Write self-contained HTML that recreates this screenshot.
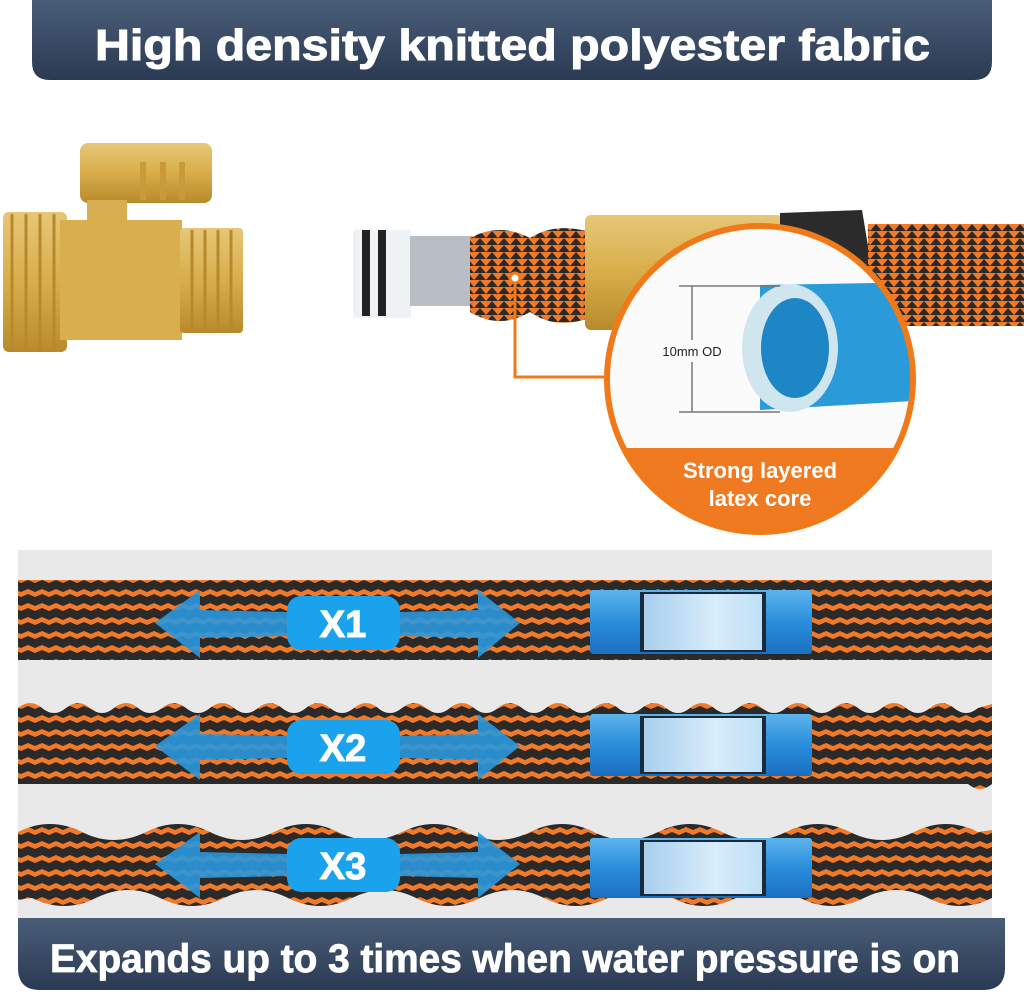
<!DOCTYPE html>
<html><head><meta charset="utf-8"><style>
body{margin:0;width:1024px;height:991px;background:#fff;overflow:hidden;font-family:"Liberation Sans",sans-serif}
</style></head><body>
<svg width="1024" height="991" viewBox="0 0 1024 991" xmlns="http://www.w3.org/2000/svg">
<defs>
<linearGradient id="nav" x1="0" y1="0" x2="0" y2="1"><stop offset="0" stop-color="#4a5d78"/><stop offset="1" stop-color="#2a3a52"/></linearGradient>
<linearGradient id="brass" x1="0" y1="0" x2="0" y2="1"><stop offset="0" stop-color="#e6c777"/><stop offset="0.5" stop-color="#d8ad4a"/><stop offset="1" stop-color="#b98a2a"/></linearGradient>
<pattern id="braid" width="14" height="14" patternUnits="userSpaceOnUse">
<rect width="14" height="14" fill="#2c2a28"/><path d="M0 1 L7 4 L14 1 L14 6 L7 9 L0 6 Z" fill="#f07a2a"/></pattern>
<pattern id="braidv" width="12" height="14" patternUnits="userSpaceOnUse">
<rect width="12" height="14" fill="#2c2a28"/><path d="M0 0 L6 7 L12 0 Z M0 7 L6 14 L12 7 Z" fill="#f07a2a"/></pattern>
<linearGradient id="blue" x1="0" y1="0" x2="0" y2="1"><stop offset="0" stop-color="#5cb4ec"/><stop offset="0.5" stop-color="#2a8ddb"/><stop offset="1" stop-color="#1b6fc0"/></linearGradient>
<linearGradient id="water" x1="0" y1="0" x2="1" y2="0"><stop offset="0" stop-color="#a8cfee"/><stop offset="0.6" stop-color="#d8ecfa"/><stop offset="1" stop-color="#bfe0f6"/></linearGradient>
<clipPath id="circ"><circle cx="760" cy="379" r="152"/></clipPath>
</defs>

<path d="M32 0 H992 V62 Q992 80 974 80 H50 Q32 80 32 62 Z" fill="url(#nav)"/>
<text x="95" y="60" textLength="835" lengthAdjust="spacingAndGlyphs" font-size="44" font-weight="bold" fill="#fff" stroke="#fff" stroke-width="1">High density knitted polyester fabric</text>

<rect x="80" y="143" width="132" height="60" rx="8" fill="url(#brass)"/>
<rect x="140" y="162" width="6" height="38" fill="#c99a3a"/><rect x="160" y="162" width="6" height="38" fill="#c99a3a"/><rect x="179" y="162" width="6" height="38" fill="#c99a3a"/>
<rect x="87" y="200" width="40" height="32" fill="#d9ae52"/>
<rect x="3" y="212" width="64" height="140" rx="6" fill="url(#brass)"/>
<g stroke="#b8892c" stroke-width="3"><line x1="12" y1="214" x2="12" y2="350"/><line x1="26" y1="214" x2="26" y2="350"/><line x1="40" y1="214" x2="40" y2="350"/><line x1="54" y1="214" x2="54" y2="350"/></g>
<rect x="60" y="220" width="122" height="120" fill="#d9ae4c"/>
<rect x="180" y="228" width="63" height="105" rx="4" fill="url(#brass)"/>
<g stroke="#b8892c" stroke-width="3"><line x1="192" y1="230" x2="192" y2="331"/><line x1="205" y1="230" x2="205" y2="331"/><line x1="218" y1="230" x2="218" y2="331"/><line x1="231" y1="230" x2="231" y2="331"/></g>

<rect x="353" y="230" width="58" height="88" fill="#eef2f4"/>
<rect x="362" y="230" width="8" height="86" fill="#222"/><rect x="378" y="230" width="8" height="86" fill="#222"/>
<rect x="410" y="236" width="62" height="70" fill="#b9bec4"/>
<path d="M470 238 Q500 222 530 238 Q555 222 590 232 V318 Q555 330 530 312 Q500 330 470 312 Z" fill="url(#braidv)"/>
<rect x="585" y="215" width="198" height="115" rx="6" fill="url(#brass)"/>
<path d="M780 213 L862 210 L872 270 L780 280 Z" fill="#2b2b2b"/>
<rect x="868" y="224" width="156" height="102" fill="url(#braidv)"/>

<circle cx="515" cy="278" r="5" fill="#fff" stroke="#f07a1a" stroke-width="3"/>
<polyline points="515,283 515,377 612,377" fill="none" stroke="#f07a1a" stroke-width="3"/>

<circle cx="760" cy="379" r="152" fill="#fbfbfb"/>
<g clip-path="url(#circ)">
<rect x="600" y="448" width="320" height="100" fill="#f07a22"/>
<path d="M760 285 L930 282 L930 400 L760 410 Z" fill="#2a9ad8"/>
<ellipse cx="790" cy="348" rx="48" ry="64" fill="#cfe6ee"/>
<ellipse cx="795" cy="348" rx="34" ry="50" fill="#1e86c4"/>
</g>
<circle cx="760" cy="379" r="153" fill="none" stroke="#f07a1a" stroke-width="6"/>
<g stroke="#777" stroke-width="1.5"><line x1="679" y1="286" x2="780" y2="286"/><line x1="679" y1="412" x2="780" y2="412"/><line x1="692" y1="286" x2="692" y2="340"/><line x1="692" y1="362" x2="692" y2="412"/></g>
<text x="692" y="356" text-anchor="middle" font-size="13" fill="#222">10mm OD</text>
<text x="760" y="478" text-anchor="middle" font-size="22" font-weight="bold" fill="#fff">Strong layered</text>
<text x="760" y="506" text-anchor="middle" font-size="22" font-weight="bold" fill="#fff">latex core</text>

<rect x="18" y="550" width="974" height="370" fill="#e9e9e9"/>

<rect x="18" y="580" width="974" height="80" fill="url(#braid)"/>
<path d="M18 708 Q30 698 42 708 T66 708 T90 708 T114 708 T138 708 T162 708 T186 708 T210 708 T234 708 T258 708 T282 708 T306 708 T330 708 T354 708 T378 708 T402 708 T426 708 T450 708 T474 708 T498 708 T522 708 T546 708 T570 708 T594 708 T618 708 T642 708 T666 708 T690 708 T714 708 T738 708 T762 708 T786 708 T810 708 T834 708 T858 708 T882 708 T906 708 T930 708 T954 708 T978 708 L992 704 V784 Q980 794 968 784 L18 784 Z" fill="url(#braid)"/>
<path d="M18 832 Q50 816 82 832 T146 832 T210 832 T274 832 T338 832 T402 832 T466 832 T530 832 T594 832 T658 832 T722 832 T786 832 T850 832 T914 832 T978 832 L992 830 V898 Q960 914 928 898 T864 898 T800 898 T736 898 T672 898 T608 898 T544 898 T480 898 T416 898 T352 898 T288 898 T224 898 T160 898 T96 898 T32 898 L18 900 Z" fill="url(#braid)"/>

<g>
<rect x="590" y="590" width="222" height="64" rx="3" fill="url(#blue)"/><rect x="640" y="592" width="126" height="60" fill="#1a2a3a"/><rect x="644" y="594" width="118" height="56" fill="url(#water)"/>
<rect x="590" y="714" width="222" height="62" rx="3" fill="url(#blue)"/><rect x="640" y="716" width="126" height="58" fill="#1a2a3a"/><rect x="644" y="718" width="118" height="54" fill="url(#water)"/>
<rect x="590" y="838" width="222" height="60" rx="3" fill="url(#blue)"/><rect x="640" y="840" width="126" height="56" fill="#1a2a3a"/><rect x="644" y="842" width="118" height="52" fill="url(#water)"/>
</g>
<g fill="#2a97dd" opacity="0.9">
<path d="M155 623 L200 590 L200 610 L290 612 L290 636 L200 638 L200 658 Z"/><path d="M520 623 L478 590 L478 610 L400 612 L400 636 L478 638 L478 658 Z"/>
<path d="M155 746 L200 714 L200 734 L290 736 L290 758 L200 760 L200 780 Z"/><path d="M520 746 L478 714 L478 734 L400 736 L400 758 L478 760 L478 780 Z"/>
<path d="M155 864 L200 832 L200 852 L290 854 L290 876 L200 878 L200 898 Z"/><path d="M520 864 L478 832 L478 852 L400 854 L400 876 L478 878 L478 898 Z"/>
</g>
<g fill="#1aa3ec">
<rect x="287" y="596" width="113" height="54" rx="14"/>
<rect x="287" y="720" width="113" height="54" rx="14"/>
<rect x="287" y="838" width="113" height="54" rx="14"/>
</g>
<g font-size="38" font-weight="bold" fill="#fff" text-anchor="middle" stroke="#fff" stroke-width="1">
<text x="343" y="637">X1</text><text x="343" y="761">X2</text><text x="343" y="879">X3</text>
</g>

<path d="M18 918 H1005 V968 Q1005 990 983 990 H40 Q18 990 18 968 Z" fill="url(#nav)"/>
<text x="50" y="972" textLength="910" lengthAdjust="spacingAndGlyphs" font-size="40" font-weight="bold" fill="#fff" stroke="#fff" stroke-width="0.8">Expands up to 3 times when water pressure is on</text>
</svg>
</body></html>
